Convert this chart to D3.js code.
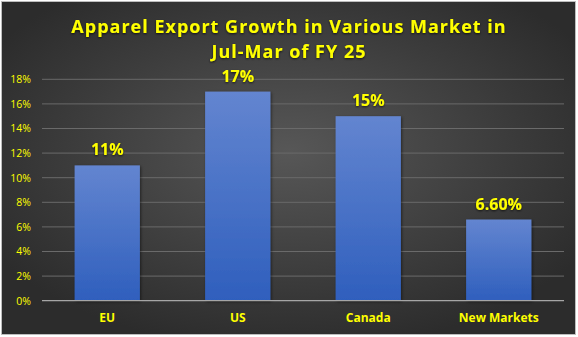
<!DOCTYPE html>
<html><head><meta charset="utf-8">
<script src="https://cdn.jsdelivr.net/npm/d3@7"></script>
<style>html,body{margin:0;padding:0;background:#fff;}svg{display:block;}</style>
</head><body>
<svg id="c" width="578" height="337"></svg>
<script>
const categories = ["EU", "US", "Canada", "New Markets"];
const values = [11, 17, 15, 6.6];
const valueLabels = ["11%", "17%", "15%", "6.60%"];
const yTicks = [0, 2, 4, 6, 8, 10, 12, 14, 16, 18];
const titleLines = ["Apparel Export Growth in Various Market in", "Jul-Mar of FY 25"];

const svg = d3.select("#c");
const W = 578, H = 337;
const m = {left: 42, right: 14, top: 79.3, bottom: 36.3};
const defs = svg.append("defs");
const bg = defs.append("radialGradient").attr("id","bg").attr("cx","50%").attr("cy","45%").attr("r","60%");
bg.append("stop").attr("offset","0%").attr("stop-color","#575757");
bg.append("stop").attr("offset","100%").attr("stop-color","#2c2c2c");
const bar = defs.append("linearGradient").attr("id","bar").attr("x1",0).attr("y1",0).attr("x2",0).attr("y2",1);
bar.append("stop").attr("offset","0%").attr("stop-color","#6385d0");
bar.append("stop").attr("offset","100%").attr("stop-color","#2f5fbd");
const sh = defs.append("filter").attr("id","sh").attr("x","-20%").attr("y","-20%").attr("width","140%").attr("height","140%");
sh.append("feDropShadow").attr("dx",1).attr("dy",1).attr("stdDeviation",1.5).attr("flood-color","#000").attr("flood-opacity",0.5);
const tsh = defs.append("filter").attr("id","tsh").attr("x","-10%").attr("y","-30%").attr("width","120%").attr("height","160%");
tsh.append("feDropShadow").attr("dx",0).attr("dy",1).attr("stdDeviation",1.2).attr("flood-color","#000").attr("flood-opacity",0.7);

svg.append("rect").attr("x",1.5).attr("y",1.5).attr("width",W-4).attr("height",H-4)
  .attr("fill","url(#bg)").attr("stroke","#bdbdbd").attr("stroke-width",1);

const x = d3.scaleBand().domain(categories).range([m.left, W - m.right]).paddingInner(0.5).paddingOuter(0.25);
const y = d3.scaleLinear().domain([0, 18]).range([H - m.bottom, m.top]);

// gridlines
svg.append("g").selectAll("line").data(yTicks.filter(d => d > 0)).join("line")
  .attr("x1", m.left).attr("x2", W - m.right)
  .attr("y1", d => y(d)).attr("y2", d => y(d))
  .attr("stroke", "#6a6a6a").attr("stroke-width", 1);

// y axis labels
const yAxis = d3.axisLeft(y).tickValues(yTicks).tickFormat(d => d + "%").tickSize(0).tickPadding(11);
const ya = svg.append("g").attr("transform", `translate(${m.left},0)`).call(yAxis);
ya.select(".domain").remove();
ya.selectAll("text").attr("fill", "#ffff00").attr("font-family", "'Open Sans', sans-serif").attr("font-size", 10.5);

// bars
svg.append("g").selectAll("rect").data(values).join("rect")
  .attr("x", (d, i) => x(categories[i])).attr("width", x.bandwidth())
  .attr("y", d => y(d)).attr("height", d => y(0) - y(d))
  .attr("fill", "url(#bar)").attr("filter", "url(#sh)");

// baseline
svg.append("line").attr("x1", m.left).attr("x2", W - m.right).attr("y1", y(0)).attr("y2", y(0))
  .attr("stroke", "#a6a6a6").attr("stroke-width", 1.2);

// x axis
const xAxis = d3.axisBottom(x).tickSize(0).tickPadding(13);
const xa = svg.append("g").attr("transform", `translate(0,${y(0)})`).call(xAxis);
xa.select(".domain").remove();
xa.selectAll("text").attr("fill", "#ffff00").attr("font-family", "'Open Sans', sans-serif")
  .attr("font-weight", "bold").attr("font-size", 12);

// value labels
svg.append("g").attr("filter", "url(#tsh)").selectAll("text").data(values).join("text")
  .attr("x", (d, i) => x(categories[i]) + x.bandwidth() / 2)
  .attr("y", d => y(d) - 10)
  .attr("text-anchor", "middle").attr("fill", "#ffff00")
  .attr("font-family", "'Open Sans', sans-serif").attr("font-weight", "bold").attr("font-size", 16)
  .text((d, i) => valueLabels[i]);

// title
svg.append("g").attr("filter", "url(#tsh)").selectAll("text").data(titleLines).join("text")
  .attr("x", W / 2).attr("y", (d, i) => 33 + i * 25)
  .attr("text-anchor", "middle").attr("fill", "#ffff00")
  .attr("font-family", "'Open Sans', sans-serif").attr("font-weight", "bold").attr("font-size", 18)
  .attr("letter-spacing", 1)
  .text(d => d);
</script>
</body></html>
